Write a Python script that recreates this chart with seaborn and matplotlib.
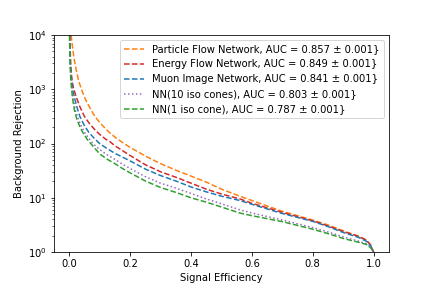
import matplotlib
matplotlib.use("Agg")
import matplotlib.pyplot as plt
import seaborn as sns
import numpy as np
import pandas as pd

# Signal efficiency / log10(background rejection) values
pfn_eff = [0.006, 0.008, 0.01, 0.015, 0.02, 0.03, 0.04, 0.05, 0.058, 0.07, 0.08, 0.09, 0.10,
           0.115, 0.129, 0.15, 0.175, 0.20, 0.25, 0.30, 0.35, 0.40, 0.45, 0.50, 0.56, 0.60,
           0.70, 0.80, 0.85, 0.90, 0.95, 0.976, 0.99, 1.0]
pfn_log = [4.0, 3.92, 3.82, 3.60, 3.44, 3.18, 3.00, 2.86, 2.76, 2.64, 2.54, 2.46, 2.39,
           2.30, 2.22, 2.12, 2.02, 1.93, 1.77, 1.63, 1.51, 1.40, 1.29, 1.16, 1.03, 0.95,
           0.75, 0.59, 0.50, 0.39, 0.29, 0.22, 0.13, 0.0]

efn_eff = [0.002, 0.003, 0.005, 0.0075, 0.01, 0.015, 0.025, 0.035, 0.05, 0.065, 0.085, 0.10,
           0.12, 0.135, 0.15, 0.175, 0.20, 0.25, 0.30, 0.35, 0.40, 0.45, 0.50, 0.56, 0.60,
           0.70, 0.80, 0.85, 0.90, 0.95, 0.976, 0.99, 1.0]
efn_log = [4.0, 3.78, 3.44, 3.26, 3.14, 3.00, 2.83, 2.68, 2.50, 2.38, 2.25, 2.17,
           2.08, 2.03, 1.96, 1.87, 1.78, 1.61, 1.48, 1.38, 1.27, 1.16, 1.07, 0.98, 0.90,
           0.73, 0.575, 0.48, 0.38, 0.29, 0.22, 0.13, 0.0]

mun_eff = [0.0015, 0.0025, 0.004, 0.006, 0.009, 0.013, 0.018, 0.025, 0.035, 0.05, 0.064, 0.08,
           0.10, 0.125, 0.15, 0.175, 0.20, 0.25, 0.30, 0.35, 0.40, 0.45, 0.50, 0.56, 0.60,
           0.70, 0.80, 0.85, 0.90, 0.95, 0.976, 0.99, 1.0]
mun_log = [4.0, 3.70, 3.44, 3.25, 3.10, 2.95, 2.83, 2.68, 2.50, 2.33, 2.21, 2.11,
           2.00, 1.905, 1.82, 1.75, 1.68, 1.53, 1.41, 1.31, 1.20, 1.11, 1.03, 0.95, 0.88,
           0.71, 0.565, 0.47, 0.36, 0.27, 0.20, 0.12, 0.0]

nn10_eff = [0.001, 0.002, 0.004, 0.006, 0.008, 0.013, 0.02, 0.03, 0.04, 0.05, 0.065, 0.08,
            0.10, 0.125, 0.15, 0.175, 0.20, 0.25, 0.30, 0.35, 0.40, 0.45, 0.50, 0.56, 0.60,
            0.70, 0.80, 0.85, 0.90, 0.95, 0.976, 0.99, 1.0]
nn10_log = [4.0, 3.70, 3.44, 3.24, 3.10, 2.83, 2.62, 2.45, 2.32, 2.21, 2.09, 1.99,
            1.89, 1.79, 1.71, 1.62, 1.54, 1.39, 1.27, 1.18, 1.08, 0.98, 0.89, 0.78, 0.72,
            0.59, 0.45, 0.37, 0.28, 0.20, 0.15, 0.09, 0.0]

nn1_eff = [0.001, 0.002, 0.003, 0.005, 0.007, 0.011, 0.017, 0.025, 0.035, 0.044, 0.06, 0.08,
           0.10, 0.125, 0.15, 0.175, 0.20, 0.25, 0.30, 0.35, 0.40, 0.45, 0.50, 0.56, 0.60,
           0.70, 0.80, 0.85, 0.90, 0.95, 0.976, 0.99, 1.0]
nn1_log = [4.0, 3.68, 3.44, 3.20, 3.05, 2.83, 2.62, 2.45, 2.31, 2.21, 2.07, 1.94,
           1.81, 1.71, 1.63, 1.54, 1.46, 1.31, 1.19, 1.10, 1.00, 0.92, 0.83, 0.72, 0.67,
           0.56, 0.42, 0.34, 0.25, 0.18, 0.14, 0.08, 0.0]

labels = [
    "Particle Flow Network, AUC = 0.857 \u00b1 0.001}",
    "Energy Flow Network, AUC = 0.849 \u00b1 0.001}",
    "Muon Image Network, AUC = 0.841 \u00b1 0.001}",
    "NN(10 iso cones), AUC = 0.803 \u00b1 0.001}",
    "NN(1 iso cone), AUC = 0.787 \u00b1 0.001}",
]
colors = ["#ff7f0e", "#d62728", "#1f77b4", "#9467bd", "#2ca02c"]
styles = ["--", "--", "--", ":", "--"]

curves = [(pfn_eff, pfn_log), (efn_eff, efn_log), (mun_eff, mun_log),
          (nn10_eff, nn10_log), (nn1_eff, nn1_log)]

fig, ax = plt.subplots(figsize=(6, 4), dpi=72)
fig.subplots_adjust(left=0.125, right=0.9, bottom=0.125, top=0.878)

for (eff, lg), lab, col, ls in zip(curves, labels, colors, styles):
    df = pd.DataFrame({"eff": eff, "rej": np.power(10.0, lg)})
    sns.lineplot(data=df, x="eff", y="rej", ax=ax, color=col, linestyle=ls,
                 label=lab, linewidth=1.5, sort=False, estimator=None)

ax.set_yscale("log")
ax.set_ylim(1, 1e4)
ax.set_xlim(-0.05, 1.05)
ax.set_xticks([0.0, 0.2, 0.4, 0.6, 0.8, 1.0])
ax.set_xlabel("Signal Efficiency")
ax.set_ylabel("Background Rejection")
ax.legend(loc="upper right")

fig.savefig("out.png", dpi=72)
